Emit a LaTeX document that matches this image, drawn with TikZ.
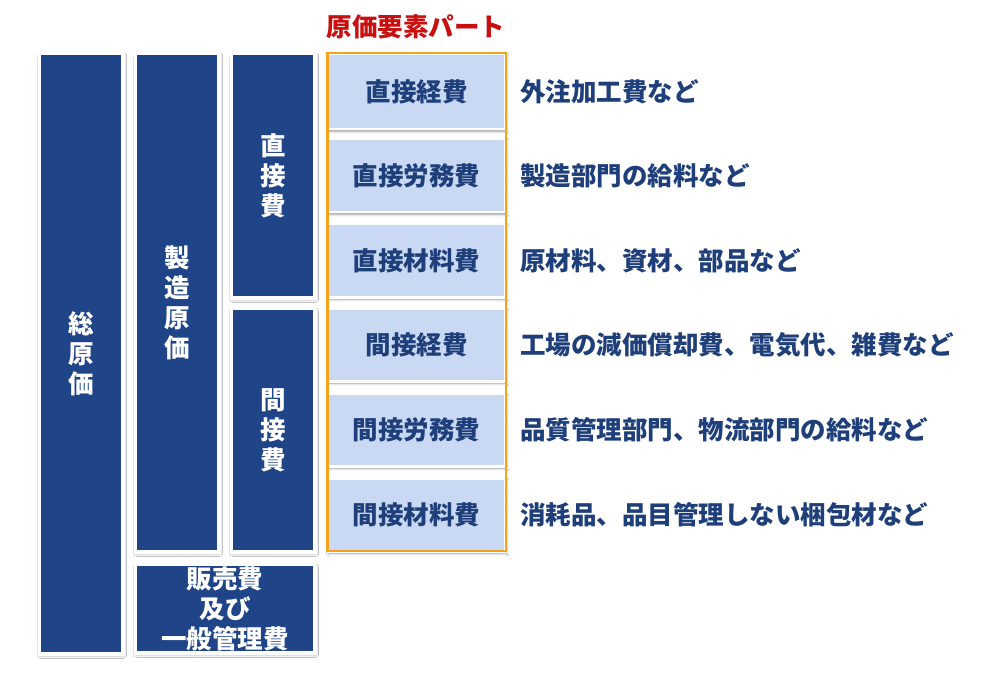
\documentclass[tikz,border=0pt]{standalone}
\usepackage{fontspec}
\setmainfont{Noto Sans CJK JP}
\usetikzlibrary{shadows,shadows.blur}
\definecolor{darkfill}{HTML}{1F4487}
\definecolor{lightfill}{HTML}{C9D9F3}
\definecolor{txtblue}{HTML}{1F3F7B}
\definecolor{partorange}{HTML}{F5A31E}
\definecolor{titlered}{HTML}{C81010}
\tikzset{
  boxshadow/.style={blur shadow={shadow blur steps=6, shadow xshift=1.2pt, shadow yshift=-2pt, shadow blur radius=2.5pt, shadow opacity=40}},
  darkbox/.style={boxshadow, fill=darkfill, draw=white, line width=3.5pt, inner sep=0pt,
    text=white, font=\bfseries\fontsize{25.5}{30}\selectfont, align=center},
  lightbox/.style={boxshadow, fill=lightfill, draw=white, line width=2.5pt, inner sep=0pt,
    minimum width=177.5pt, text=txtblue, font=\bfseries\fontsize{25.5}{30}\selectfont},
  desc/.style={anchor=west, inner sep=0pt, text=txtblue, font=\bfseries\fontsize{25.5}{30}\selectfont},
  partframe/.style={draw=partorange, line width=2.5pt, inner sep=0pt, minimum width=178.5pt, minimum height=497.5pt},
  parttitle/.style={text=titlered, font=\bfseries\fontsize{25.5}{30}\selectfont, inner sep=0pt}
}
\begin{document}
\begin{tikzpicture}[x=1pt,y=-1pt]
\useasboundingbox[fill=white] (0,0) rectangle (1005,674);
% left hierarchy
\node[darkbox, minimum width=83.5pt, minimum height=600.5pt] (sou) at (81,353.5) {総\\原\\価};
\node[darkbox, minimum width=83.5pt, minimum height=498.5pt] (seizo) at (177,302.5) {製\\造\\原\\価};
\node[darkbox, minimum width=83.5pt, minimum height=244.5pt] (choku) at (273,175.5) {直\\接\\費};
\node[darkbox, minimum width=83.5pt, minimum height=243.5pt] (kan) at (273,430) {間\\接\\費};
\node[darkbox, minimum width=179.5pt, minimum height=88.5pt] (hanbai) at (225,608.5) {販売費\\及び\\一般管理費};
% element parts
\node[lightbox, minimum height=75.5pt] (e1) at (416.5,91.5) {直接経費};
\node[lightbox, minimum height=73.5pt] (e2) at (416.5,175.5) {直接労務費};
\node[lightbox, minimum height=73.5pt] (e3) at (416.5,260.5) {直接材料費};
\node[lightbox, minimum height=72.5pt] (e4) at (416.5,345) {間接経費};
\node[lightbox, minimum height=72.5pt] (e5) at (416.5,430) {間接労務費};
\node[lightbox, minimum height=72.5pt] (e6) at (416.5,515) {間接材料費};
\node[partframe] (part) at (416.5,302) {};
\node[parttitle] (title) at (416,27) {原価要素パート};
% descriptions
\node[desc] (d1) at (520,91.5) {外注加工費など};
\node[desc] (d2) at (520,175.5) {製造部門の給料など};
\node[desc] (d3) at (520,260.5) {原材料、資材、部品など};
\node[desc] (d4) at (520,345) {工場の減価償却費、電気代、雑費など};
\node[desc] (d5) at (520,430) {品質管理部門、物流部門の給料など};
\node[desc] (d6) at (520,515) {消耗品、品目管理しない梱包材など};
\end{tikzpicture}
\end{document}
